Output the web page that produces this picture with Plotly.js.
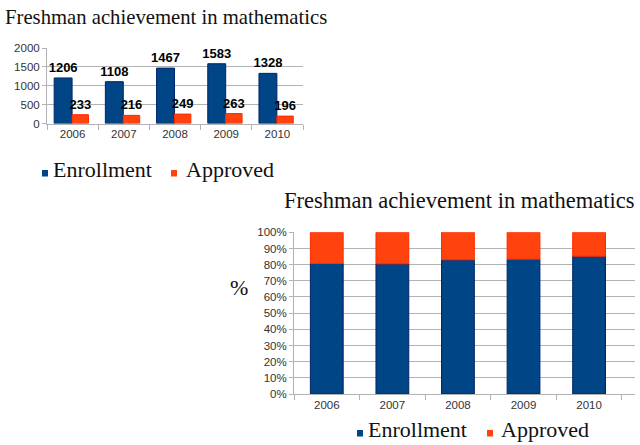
<!DOCTYPE html>
<html>
<head>
<meta charset="utf-8">
<script src="https://cdn.plot.ly/plotly-3.0.1.min.js"></script>
<style>
  html, body { margin: 0; padding: 0; background: #fff; }
  #chart { width: 640px; height: 445px; }
</style>
</head>
<body>
<div id="chart"></div>
<script>
// values
var years = ['2006', '2007', '2008', '2009', '2010'];
var enrollment = [1206, 1108, 1467, 1583, 1328];
var approved = [233, 216, 249, 263, 196];

// stacked chart shares (%)
var enrollPct = [80.7, 80.5, 83.0, 83.4, 85.2];
var approvedPct = [19.3, 19.5, 17.0, 16.6, 14.8];

var countTicks = [0, 500, 1000, 1500, 2000];
var pctTicks = [0, 10, 20, 30, 40, 50, 60, 70, 80, 90, 100];

var titleText = 'Freshman achievement in mathematics';
var seriesNames = ['Enrollment', 'Approved'];
var colors = ['#004586', '#ff420e'];

var SERIF = '"Liberation Serif", "Times New Roman", serif';
var SANS = '"Liberation Sans", Arial, sans-serif';

// pixel -> paper helpers
function px(v) { return v / 640; }
function py(v) { return 1 - v / 445; }

var labelFont = {family: SANS, size: 13, color: '#000', weight: 'bold'};

var traces = [
    {
        type: 'bar', x: years, y: enrollment, name: seriesNames[0],
        xaxis: 'x', yaxis: 'y',
        offset: -0.36, width: 0.35,
        marker: {color: colors[0], line: {color: '#00236b', width: 1}},
        text: enrollment.map(String), textposition: 'outside',
        textfont: labelFont, constraintext: 'none', cliponaxis: false,
        showlegend: false, hoverinfo: 'none'
    },
    {
        type: 'bar', x: years, y: approved, name: seriesNames[1],
        xaxis: 'x', yaxis: 'y',
        offset: -0.01, width: 0.32,
        marker: {color: colors[1], line: {color: '#ff2a00', width: 1}},
        text: approved.map(String), textposition: 'outside',
        textfont: labelFont, constraintext: 'none', cliponaxis: false,
        showlegend: false, hoverinfo: 'none'
    },
    {
        type: 'bar', x: years, y: enrollPct, name: seriesNames[0],
        xaxis: 'x2', yaxis: 'y2',
        width: 0.5,
        marker: {color: colors[0], line: {color: '#00236b', width: 1}},
        showlegend: false, hoverinfo: 'none'
    },
    {
        type: 'bar', x: years, y: approvedPct, base: enrollPct, name: seriesNames[1],
        xaxis: 'x2', yaxis: 'y2',
        width: 0.5,
        marker: {color: colors[1], line: {color: '#ff2a00', width: 1}},
        showlegend: false, hoverinfo: 'none'
    }
];

var tickFont = {family: SANS, size: 11.5, color: '#333'};

var xCommon = {
    type: 'category', tickson: 'boundaries', ticks: 'outside', ticklen: 5,
    tickcolor: '#b3b3b3', showline: true, linecolor: '#b3b3b3', linewidth: 1,
    showgrid: false, zeroline: false, tickfont: tickFont, fixedrange: true
};
var yCommon = {
    ticks: 'outside', ticklen: 4, tickcolor: '#b3b3b3',
    showline: true, linecolor: '#b3b3b3', linewidth: 1,
    showgrid: true, gridcolor: '#b3b3b3', gridwidth: 1,
    zeroline: false, tickfont: tickFont, fixedrange: true
};

function legendItems(xs, yBase) {
    // small swatches + names, placed like the original legend
    var shapes = [], anns = [];
    for (var i = 0; i < seriesNames.length; i++) {
        shapes.push({
            type: 'rect', xref: 'paper', yref: 'paper',
            x0: px(xs[i][0]), x1: px(xs[i][0] + 6),
            y0: py(yBase), y1: py(yBase - 6.5),
            fillcolor: colors[i], line: {width: 0}
        });
        anns.push({
            xref: 'paper', yref: 'paper', x: px(xs[i][1] - 2), y: py(yBase - 7),
            xanchor: 'left', yanchor: 'middle', showarrow: false,
            text: seriesNames[i], font: {family: SERIF, size: 22, color: '#111'}
        });
    }
    return {shapes: shapes, anns: anns};
}

var topLegend = legendItems([[42, 53], [171, 186]], 176.5);
var botLegend = legendItems([[357, 368], [487, 501]], 436.5);

var annotations = [
    {
        xref: 'paper', yref: 'paper', x: px(3), y: py(17.5),
        xanchor: 'left', yanchor: 'middle', showarrow: false,
        text: titleText, font: {family: SERIF, size: 20.7, color: '#111'}
    },
    {
        xref: 'paper', yref: 'paper', x: px(282), y: py(200.5),
        xanchor: 'left', yanchor: 'middle', showarrow: false,
        text: titleText, font: {family: SERIF, size: 22.5, color: '#111'}
    },
    {
        xref: 'paper', yref: 'paper', x: px(239), y: py(287),
        xanchor: 'center', yanchor: 'middle', showarrow: false,
        text: '%', font: {family: SERIF, size: 22, color: '#111'}
    }
].concat(topLegend.anns, botLegend.anns);

var layout = {
    width: 640, height: 445,
    margin: {l: 0, r: 0, t: 0, b: 0},
    paper_bgcolor: '#fff', plot_bgcolor: '#fff',
    barmode: 'overlay',
    showlegend: false,
    xaxis: Object.assign({}, xCommon, {
        domain: [px(47), px(303)], anchor: 'y', range: [-0.5, 4.5]
    }),
    yaxis: Object.assign({}, yCommon, {
        domain: [py(123.5), py(48)], anchor: 'x', range: [0, 2000],
        tickmode: 'array', tickvals: countTicks, ticktext: countTicks.map(String)
    }),
    xaxis2: Object.assign({}, xCommon, {
        domain: [px(294), px(635)], anchor: 'y2', range: [-0.5, 4.7]
    }),
    yaxis2: Object.assign({}, yCommon, {
        domain: [py(394), py(232.3)], anchor: 'x2', range: [0, 100],
        tickmode: 'array', tickvals: pctTicks,
        ticktext: pctTicks.map(function (v) { return v + '%'; })
    }),
    annotations: annotations,
    shapes: topLegend.shapes.concat(botLegend.shapes)
};

Plotly.newPlot('chart', traces, layout, {displayModeBar: false, staticPlot: true});
</script>
</body>
</html>
